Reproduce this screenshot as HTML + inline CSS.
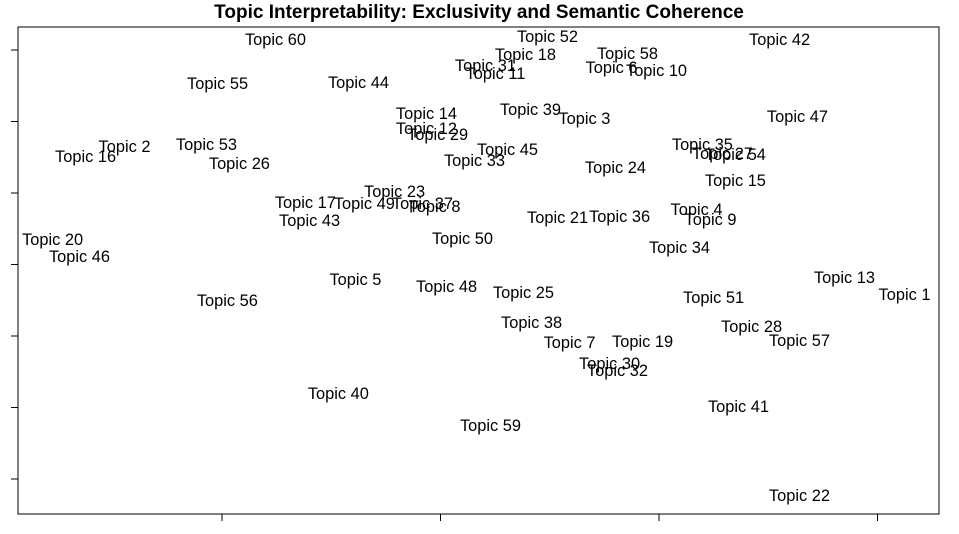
<!DOCTYPE html>
<html><head><meta charset="utf-8"><style>
html,body{margin:0;padding:0;background:#fff;}
svg{display:block;font-family:"Liberation Sans",Arial,sans-serif;}
</style></head><body>
<svg id="chart" width="959" height="534">
<text x="479" y="18" text-anchor="middle" font-weight="bold" font-size="19">Topic Interpretability: Exclusivity and Semantic Coherence</text>
<rect x="18" y="27" width="921" height="487" fill="none" stroke="#000" stroke-width="1"/>
<g id="axes"></g>
<g id="labels"></g>
</svg>
<script>
const topicNames = [60,52,42,18,58,31,6,11,10,55,44,14,39,3,47,12,29,2,53,35,16,45,27,54,33,26,24,15,23,17,49,37,8,4,21,36,9,43,20,50,34,46,13,5,48,25,1,51,56,38,28,7,19,57,30,32,40,41,59,22];
const exclusivity = [9.3247,9.4492,9.5554,9.4391,9.4858,9.4208,9.4785,9.4254,9.4991,9.2982,9.3627,9.3938,9.4414,9.4661,9.5636,9.3938,9.3989,9.2556,9.2931,9.5201,9.2378,9.4309,9.5293,9.5352,9.4158,9.3082,9.4803,9.5352,9.3792,9.3384,9.3654,9.3920,9.3975,9.5174,9.4538,9.4822,9.5238,9.3403,9.2227,9.4103,9.5096,9.2350,9.5851,9.3613,9.4030,9.4382,9.6126,9.5252,9.3027,9.4419,9.5426,9.4593,9.4927,9.5645,9.4776,9.4812,9.3535,9.5366,9.4231,9.5645];
const coherence = [-69.30,-69.09,-69.30,-70.35,-70.28,-71.12,-71.26,-71.68,-71.47,-72.38,-72.31,-74.48,-74.20,-74.83,-74.69,-75.52,-75.94,-76.78,-76.64,-76.64,-77.48,-76.99,-77.27,-77.34,-77.76,-77.97,-78.25,-79.16,-79.93,-80.70,-80.77,-80.77,-80.98,-81.19,-81.75,-81.68,-81.89,-81.96,-83.29,-83.22,-83.85,-84.48,-85.94,-86.08,-86.57,-86.99,-87.13,-87.34,-87.55,-89.09,-89.37,-90.49,-90.42,-90.35,-91.96,-92.45,-94.06,-94.97,-96.29,-101.19];
const xTicks = [9.3,9.4,9.5,9.6];
const yTicks = [-100,-95,-90,-85,-80,-75,-70];

function xScale(v){ return 221.5 + (v-9.3)*2185; }
function yScale(v){ return 479 - (v+100)*14.3; }

const NS="http://www.w3.org/2000/svg";
const axes=document.getElementById('axes');
xTicks.forEach(t=>{
  const l=document.createElementNS(NS,'line');
  l.setAttribute('x1',xScale(t)+0.5);l.setAttribute('x2',xScale(t)+0.5);
  l.setAttribute('y1',514);l.setAttribute('y2',521);
  l.setAttribute('stroke','#000');
  
  
  axes.appendChild(l);
});
yTicks.forEach(t=>{
  const l=document.createElementNS(NS,'line');
  l.setAttribute('x1',11);l.setAttribute('x2',18);
  l.setAttribute('y1',yScale(t));l.setAttribute('y2',yScale(t));
  l.setAttribute('stroke','#000');
  
  
  axes.appendChild(l);
});
const g=document.getElementById('labels');
topicNames.forEach((n,i)=>{
  const t=document.createElementNS(NS,'text');
  t.setAttribute('x',xScale(exclusivity[i]));
  t.setAttribute('y',yScale(coherence[i]));
  t.setAttribute('text-anchor','middle');
  t.setAttribute('dominant-baseline','central');
  t.setAttribute('font-size','16.4');
  t.textContent='Topic '+n;
  
  
  g.appendChild(t);
});
</script>
</body></html>
